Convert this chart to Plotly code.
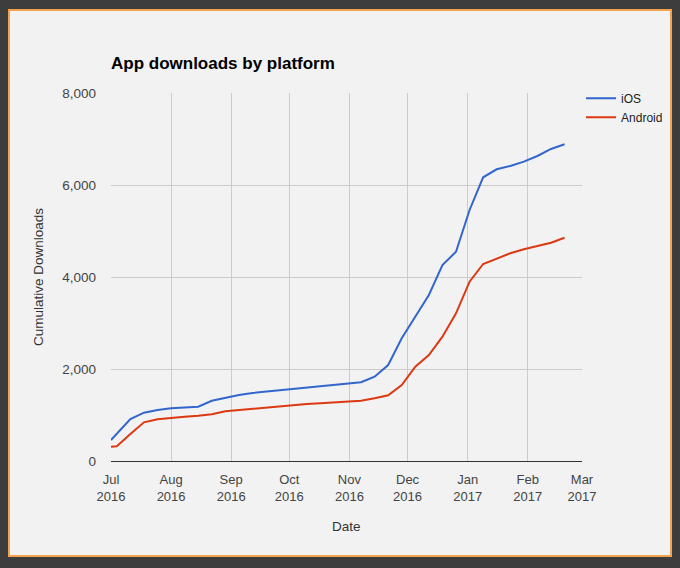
import plotly.graph_objects as go

# weekly cumulative downloads (first point Jul 1, then Mondays)
dates = ["2016-07-01", "2016-07-04", "2016-07-11", "2016-07-18", "2016-07-25",
         "2016-08-01", "2016-08-08", "2016-08-15", "2016-08-22", "2016-08-29",
         "2016-09-05", "2016-09-12", "2016-09-19", "2016-09-26",
         "2016-10-03", "2016-10-10", "2016-10-17", "2016-10-24", "2016-10-31",
         "2016-11-07", "2016-11-14", "2016-11-21", "2016-11-28",
         "2016-12-05", "2016-12-12", "2016-12-19", "2016-12-26",
         "2017-01-02", "2017-01-09", "2017-01-16", "2017-01-23", "2017-01-30",
         "2017-02-06", "2017-02-13", "2017-02-20"]

ios = [457, 590, 913, 1050, 1109,
       1145, 1163, 1180, 1310, 1376,
       1435, 1478, 1507, 1537,
       1555, 1598, 1620, 1652, 1674,
       1711, 1833, 2087, 2667,
       3137, 3609, 4261, 4550,
       5457, 6168, 6342, 6413, 6507,
       6631, 6783, 6885]

android = [311, 320, 585, 841, 906,
           942, 963, 985, 1015, 1080,
           1109, 1137, 1167, 1196,
           1217, 1238, 1258, 1275, 1289,
           1311, 1363, 1430, 1652,
           2050, 2304, 2702, 3211,
           3898, 4283, 4407, 4515, 4602,
           4674, 4746, 4854]

fig = go.Figure()
fig.add_trace(go.Scatter(x=dates, y=ios, name="iOS", mode="lines",
                         line=dict(color="#3366cc", width=2)))
fig.add_trace(go.Scatter(x=dates, y=android, name="Android", mode="lines",
                         line=dict(color="#dc3912", width=2)))

font = "Liberation Sans, Arial, sans-serif"

# orange card behind the chart (paper coords relative to plot area)
card = "M-0.2166,1.2255 L1.189,1.2255 L1.189,-0.258 L-0.2166,-0.258 Z"
fig.add_shape(type="path", path=card, xref="paper", yref="paper", layer="below",
              fillcolor="#f2f2f2", line=dict(color="#f4a24c", width=2))

fig.update_layout(
    width=680, height=568,
    margin=dict(l=111, r=98, t=93, b=107, autoexpand=False),
    paper_bgcolor="#3d3d3d",
    plot_bgcolor="rgba(0,0,0,0)",
    font=dict(family=font, size=13, color="#444444"),
    showlegend=True,
    legend=dict(x=0.998, y=1.025, xanchor="left", yanchor="top",
                bgcolor="rgba(0,0,0,0)", font=dict(size=12, color="#222222"),
                tracegroupgap=0),
    annotations=[
        dict(text="<b>App downloads by platform</b>", x=-0.004, y=1.079,
             xref="paper", yref="paper", xanchor="left", yanchor="middle",
             showarrow=False, font=dict(size=17, color="#000000")),
        dict(text="Date", x=0.501, y=-0.179, xref="paper", yref="paper",
             xanchor="center", yanchor="middle",
             showarrow=False, font=dict(size=13.5, color="#333333")),
        dict(text="Cumulative Downloads", x=-0.155, y=0.5, xref="paper",
             yref="paper", xanchor="center", yanchor="middle", textangle=-90,
             showarrow=False, font=dict(size=13.5, color="#333333")),
    ],
)

fig.update_xaxes(type="date", range=["2016-07-01", "2017-03-01"], dtick="M1",
                 tick0="2016-07-01", tickformat="%b<br>%Y", showgrid=True,
                 gridcolor="#cccccc", gridwidth=1, showline=True,
                 linecolor="#333333", linewidth=1, ticks="", zeroline=False,
                 ticklabelstandoff=6,
                 tickfont=dict(size=13, color="#444444"))
fig.update_yaxes(range=[0, 8000], dtick=2000, tickformat=",", showgrid=True,
                 gridcolor="#cccccc", gridwidth=1, zeroline=False,
                 showline=False, ticks="", ticklabelstandoff=14,
                 tickfont=dict(size=13.5, color="#444444"))

fig.write_html("out.html", config={"displayModeBar": False},
               post_script="document.body.style.margin='0';")
